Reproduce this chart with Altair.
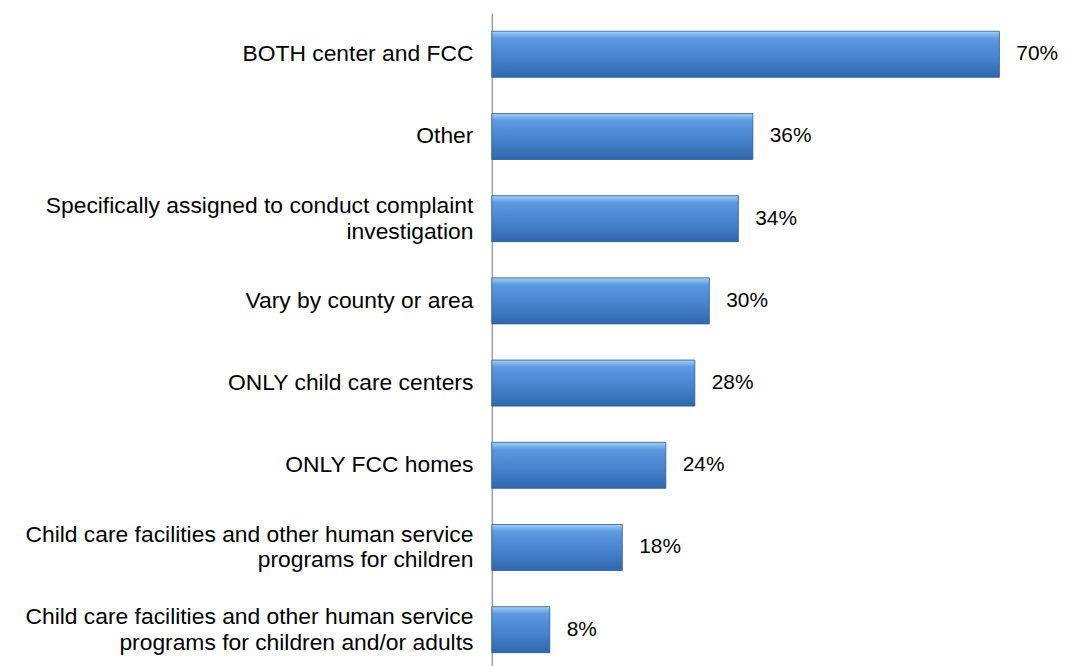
import altair as alt
import pandas as pd

categories = [
    "BOTH center and FCC",
    "Other",
    "Specifically assigned to conduct complaint|investigation",
    "Vary by county or area",
    "ONLY child care centers",
    "ONLY FCC homes",
    "Child care facilities and other human service|programs for children",
    "Child care facilities and other human service|programs for children and/or adults",
]
values = [70, 36, 34, 30, 28, 24, 18, 8]
value_labels = ["70%", "36%", "34%", "30%", "28%", "24%", "18%", "8%"]

df = pd.DataFrame({"category": categories, "value": values, "label": value_labels})

FONT = "Liberation Sans"

y_enc = alt.Y(
    "category:N",
    sort=categories,
    scale=alt.Scale(paddingInner=0.44, paddingOuter=0.22),
    axis=alt.Axis(
        title=None,
        labelExpr="split(datum.label, '|')",
        labelFont=FONT,
        labelFontSize=23,
        labelColor="#000000",
        labelLineHeight=26,
        labelPadding=19,
        labelLimit=0,
        labelOffset={
            "condition": {"test": "indexof(datum.label, '|') >= 0", "value": -13},
            "value": 0,
        },
        ticks=False,
        domainColor="#8c8c8c",
        domainWidth=1.2,
        minExtent=482,
        maxExtent=482,
    ),
)
x_enc = alt.X("value:Q", scale=alt.Scale(domain=[0, 70], nice=False), axis=None)

grad = alt.Gradient(
    gradient="linear",
    x1=0, y1=0, x2=0, y2=1,
    stops=[
        alt.GradientStop(color="#a4d0f8", offset=0),
        alt.GradientStop(color="#5e9ae0", offset=0.15),
        alt.GradientStop(color="#4884cf", offset=0.55),
        alt.GradientStop(color="#2f68ad", offset=1),
    ],
)

bars = alt.Chart(df).mark_bar(color=grad, stroke="#2a5a92", strokeWidth=0.8).encode(
    y=y_enc, x=x_enc
)

text = alt.Chart(df).mark_text(
    align="left", baseline="middle", dx=17, font=FONT, fontSize=21, color="#000000"
).encode(y=alt.Y("category:N", sort=categories), x=alt.X("value:Q"), text="label:N")

chart = (
    alt.layer(bars, text)
    .properties(
        width=511,
        height=662,
        padding={"left": 5, "top": 3, "right": 0, "bottom": 0},
    )
    .configure_view(stroke=None)
)

chart.save("out.html", embed_options={"renderer": "svg", "actions": False})
